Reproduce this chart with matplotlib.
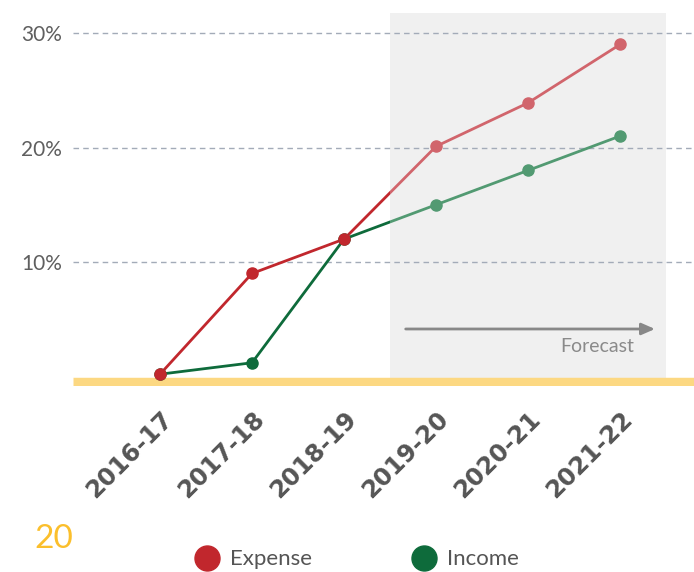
import matplotlib
matplotlib.use('Agg')
import matplotlib.pyplot as plt
import matplotlib.transforms as mtransforms
from matplotlib.patches import Rectangle

# data
years = ['2016-17', '2017-18', '2018-19', '2019-20', '2020-21', '2021-22']
expense = [0.2, 9.0, 12.0, 20.1, 23.9, 29.0]
income = [0.2, 1.2, 12.0, 15.0, 18.0, 21.0]
n_actual = 3          # first three years are actual, the rest forecast
yticks = [10, 20, 30]

exp_dark, exp_light = '#c1272d', '#d1656c'
inc_dark, inc_light = '#0e6b3b', '#529a72'

plt.rcParams['font.family'] = ['Lato', 'DejaVu Sans']

fig = plt.figure(figsize=(6.94, 5.72), dpi=100)
ax = fig.add_axes([73 / 694, (572 - 386) / 572, 621 / 694, (386 - 13) / 572])

x = list(range(len(years)))
split = n_actual - 0.5

ax.set_xlim(-0.946, 5.804)
ax.set_ylim(-0.83, 31.75)

# forecast shading
ax.axvspan(split, len(years) - 0.5, color='#f0f0f0', zorder=0, lw=0)

# grid
for t in yticks:
    ax.axhline(t, color='#a3abb8', lw=1, ls=(0, (4, 3)), zorder=1)

# clip regions for actual / forecast parts
clip_a = Rectangle((-5, -5), split + 5, 50, transform=ax.transData)
clip_f = Rectangle((split, -5), 10, 50, transform=ax.transData)

for vals, dark, light in [(income, inc_dark, inc_light), (expense, exp_dark, exp_light)]:
    l1, = ax.plot(x[:n_actual + 1], vals[:n_actual + 1], color=dark, lw=2, zorder=3)
    l1.set_clip_path(clip_a)
    l2, = ax.plot(x[n_actual - 1:], vals[n_actual - 1:], color=light, lw=2, zorder=3)
    l2.set_clip_path(clip_f)
    ax.plot(x[:n_actual], vals[:n_actual], 'o', color=dark, ms=8, zorder=4)
    ax.plot(x[n_actual:], vals[n_actual:], 'o', color=light, ms=8, zorder=4)

# yellow baseline
ax.axhline(-0.44, color='#fcd882', lw=6.8, zorder=2, solid_capstyle='butt')

# forecast arrow
ax.annotate('', xy=(5.41, 4.15), xytext=(2.64, 4.15),
            arrowprops=dict(arrowstyle='-|>,head_length=0.8,head_width=0.35',
                            color='#888888', lw=2))
ax.text(5.15, 2.65, 'Forecast', color='#8a8a8a', fontsize=14, ha='right',
        va='center')

# axes styling
for s in ax.spines.values():
    s.set_visible(False)
ax.set_yticks(yticks)
ax.set_yticklabels([f'{t}%' for t in yticks], fontsize=15, color='#5f5f5f')
ax.set_xticks(x)
ax.set_xticklabels(years, rotation=45, ha='right', rotation_mode='anchor',
                   fontsize=17.5, fontweight='bold', color='#555555',
                   family='DejaVu Sans')
offset = mtransforms.ScaledTranslation(12 / 72, 0, fig.dpi_scale_trans)
for lab in ax.get_xticklabels():
    lab.set_transform(lab.get_transform() + offset)
ax.tick_params(axis='both', length=0)
ax.tick_params(axis='y', pad=8)
ax.tick_params(axis='x', pad=15)

# page number and legend
fig.text(34 / 694, 1 - 539 / 572, '20', color='#fbbf2c', fontsize=24,
         va='center', ha='left')
for cx, label, col in [(207, 'Expense', exp_dark), (424, 'Income', inc_dark)]:
    fig.add_artist(plt.Line2D([cx / 694], [1 - 558 / 572], marker='o', ms=18,
                              color=col, transform=fig.transFigure, lw=0))
    fig.text((cx + 23) / 694, 1 - 559 / 572, label, color='#555555',
             fontsize=16, va='center', ha='left')

fig.savefig('out.png', dpi=100)
